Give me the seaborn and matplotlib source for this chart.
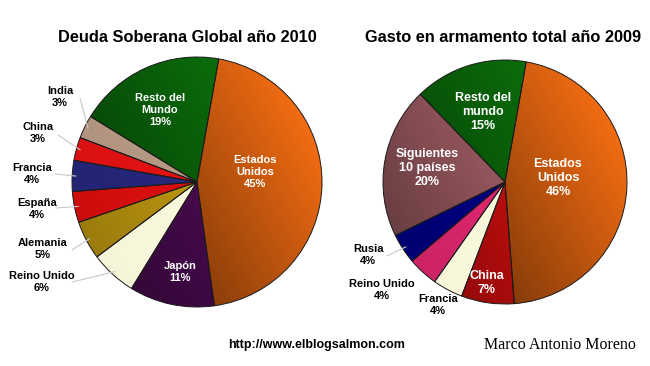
import numpy as np
import matplotlib.pyplot as plt
import seaborn as sns
from matplotlib.colors import to_rgb

sns.set_theme(style="white")
plt.rcParams["font.family"] = ["Liberation Sans", "DejaVu Sans"]

W, H = 650, 366

# ---- data ----
debt_title = "Deuda Soberana Global año 2010"
debt_labels = ["Estados\nUnidos", "Japón", "Reino Unido", "Alemania", "España",
               "Francia", "China", "India", "Resto del\nMundo"]
debt_share = [45, 11, 6, 5, 4, 4, 3, 3, 19]

arms_title = "Gasto en armamento total año 2009"
arms_labels = ["Estados\nUnidos", "China", "Francia", "Reino Unido", "Rusia",
               "Siguientes\n10 países", "Resto del\nmundo"]
arms_share = [46, 7, 4, 4, 4, 20, 15]

# ---- styles ----
debt_colors = ["#f26c12", "#5a0c62", "#fffde0", "#dcb012", "#f01010",
               "#2a2a88", "#f41414", "#c8a890", "#0c780c"]
debt_depth = [0.62, 0.45, 0.03, 0.3, 0.15, 0.15, 0.12, 0.15, 0.5]
arms_colors = ["#f26c12", "#e81010", "#fffde0", "#f02a78", "#00008e",
               "#c07078", "#0c780c"]
arms_depth = [0.62, 0.4, 0.03, 0.15, 0.2, 0.45, 0.5]

# layout in pixel coordinates (origin top-left)
debt_layout = dict(
    center=(197, 182), radius=125, start=80, title=(187, 37), inside_size=8,
    text=[(255, 172), (180, 272), (42, 282), (43, 249), (37, 209),
          (32, 174), (38, 133), (60, 97), (160, 110)],
    inside=[True, True, False, False, False, False, False, False, True],
    leader=[None, None, (72, 282), (72, 250), (56, 208), (55, 174),
            (58, 135), (80, 98), None],
)
arms_layout = dict(
    center=(505, 182), radius=122, start=80, title=(503, 37), inside_size=9,
    text=[(558, 178), (487, 283), (438, 305), (382, 290), (368, 255),
          (427, 168), (483, 112)],
    inside=[True, True, False, False, False, True, True],
    leader=[None, None, None, None, (387, 256), None, None],
)


def shaded_image(color, depth, n=200):
    xs = np.linspace(-1, 1, n)
    X, Y = np.meshgrid(xs, xs)
    u = (X * 0.8 + Y * 0.45) / 0.92
    t = np.clip((u + 1) / 2, 0, 1)
    shade = (1 - depth) + depth * t
    rgb = np.array(to_rgb(color))
    return np.clip(shade[..., None] * rgb[None, None, :], 0, 1)


def draw_pie(ax, title, labels, share, colors, depth, lay):
    cx, cy = lay["center"][0], H - lay["center"][1]
    r = lay["radius"]
    wedges, _ = ax.pie(share, colors=colors, startangle=lay["start"],
                       counterclock=False, center=(cx, cy), radius=r,
                       wedgeprops=dict(edgecolor="#1a1a1a", linewidth=0.7))
    for w, c, d in zip(wedges, colors, depth):
        im = ax.imshow(shaded_image(c, d), extent=[cx - r, cx + r, cy - r, cy + r],
                       origin="lower", interpolation="bilinear", zorder=1.5)
        im.set_clip_path(w)
        w.set_facecolor("none")
        w.set_zorder(2)

    for w, lab, v, pos, ins, lead in zip(wedges, labels, share, lay["text"],
                                         lay["inside"], lay["leader"]):
        ax.text(pos[0], H - pos[1], f"{lab}\n{v}%", ha="center", va="center",
                fontsize=lay["inside_size"] if ins else 8, fontweight="bold",
                linespacing=1.25, color="white" if ins else "black", zorder=4)
        if lead is not None:
            mid = np.deg2rad((w.theta1 + w.theta2) / 2)
            ex, ey = cx + 0.97 * r * np.cos(mid), cy + 0.97 * r * np.sin(mid)
            ax.plot([lead[0], ex], [H - lead[1], ey], color="#c8c8c8",
                    linewidth=0.8, zorder=3)

    ax.text(lay["title"][0], H - lay["title"][1], title, ha="center",
            va="center", fontsize=11.8, fontweight="bold", color="black")


fig = plt.figure(figsize=(W / 100, H / 100), dpi=100)
ax = fig.add_axes([0, 0, 1, 1])
draw_pie(ax, debt_title, debt_labels, debt_share, debt_colors, debt_depth, debt_layout)
draw_pie(ax, arms_title, arms_labels, arms_share, arms_colors, arms_depth, arms_layout)

ax.text(317, H - 345, "http://www.elblogsalmon.com", ha="center", va="center",
        fontsize=9, fontweight="bold", color="black")
ax.text(560, H - 345, "Marco Antonio Moreno", ha="center", va="center",
        fontsize=11.5, color="black", family=["Liberation Serif", "DejaVu Serif"])

ax.set_xlim(0, W)
ax.set_ylim(0, H)
ax.set_aspect("equal")
ax.axis("off")

fig.savefig("out.png", dpi=100, facecolor="white")
